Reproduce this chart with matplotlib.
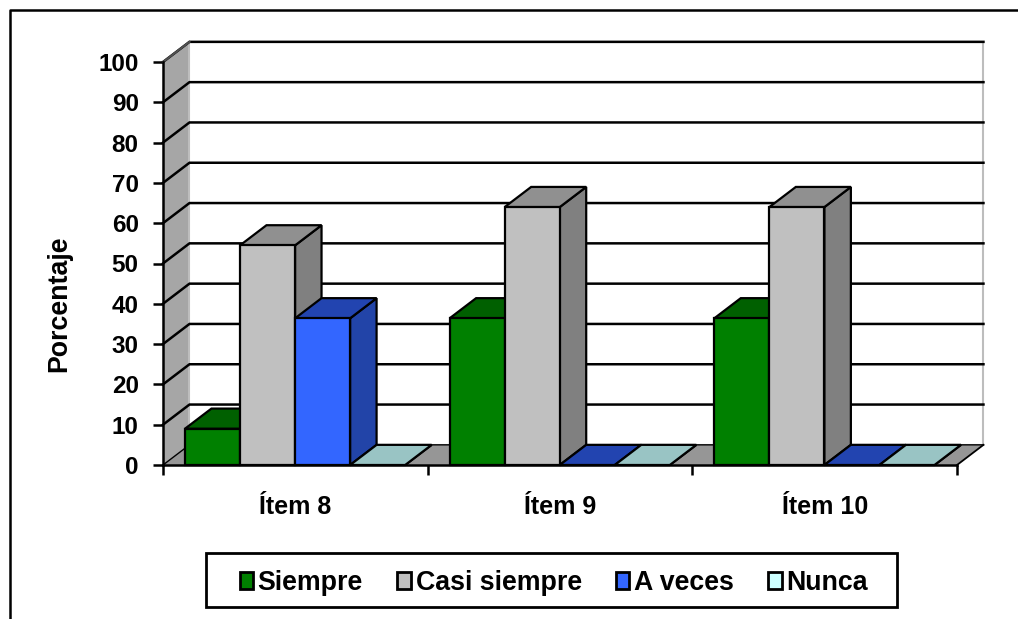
import matplotlib
matplotlib.use("Agg")
import matplotlib.pyplot as plt
from matplotlib.patches import Rectangle, Polygon, Patch
from matplotlib.lines import Line2D

categories = ["Ítem 8", "Ítem 9", "Ítem 10"]
series_names = ["Siempre", "Casi siempre", "A veces", "Nunca"]
siempre = [9, 36.4, 36.4]
casi_siempre = [54.5, 64, 64]
a_veces = [36.4, 0, 0]
nunca = [0, 0, 0]
y_ticks = list(range(0, 101, 10))

front_colors = ["#008000", "#C0C0C0", "#3366FF", "#CCFFFF"]
top_colors = ["#006000", "#909090", "#2244B0", "#99C4C4"]
side_colors = ["#006000", "#808080", "#2244A8", "#99C4C4"]

W, H = 1018, 619
plt.rcParams["font.family"] = ["Liberation Sans", "DejaVu Sans"]
plt.rcParams["font.weight"] = "bold"
fig = plt.figure(figsize=(W / 100, H / 100), dpi=100, facecolor="white")

# outer frame (top and left only reach the picture), legend frame, in figure pixels
fig.add_artist(Line2D([9.5 / W, 9.5 / W, 1], [0, 1 - 9.5 / H, 1 - 9.5 / H],
                      transform=fig.transFigure, color="black", lw=1.8))
fig.add_artist(Rectangle((206 / W, 1 - 607 / H), 691 / W, 54 / H,
                         transform=fig.transFigure, fill=False, ec="black", lw=2.0))

ax = fig.add_axes([163 / W, 1 - 465 / H, 794 / W, 403 / H])
ax.set_xlim(0, 3)
ax.set_ylim(0, 100)
ax.patch.set_alpha(0)
for s in ["top", "right"]:
    ax.spines[s].set_visible(False)
for s in ["left", "bottom"]:
    ax.spines[s].set_linewidth(1.8)
    ax.spines[s].set_zorder(20)

DX, DY = 0.1, 5.0   # 3D depth in data units
LW = 1.6

# walls and floor
ax.add_patch(Polygon([(0, 0), (DX, DY), (DX, 100 + DY), (0, 100)], fc="#A6A6A6", ec="none", zorder=1, clip_on=False))
ax.add_patch(Rectangle((DX, DY), 3, 100, fc="white", ec="#BDBDBD", lw=1.5, zorder=1, clip_on=False))
ax.add_patch(Polygon([(0, 0), (DX, DY), (3 + DX, DY), (3, 0)], fc="#969696", ec="none", zorder=1.5, clip_on=False))
for t in y_ticks:
    ax.plot([0, DX, 3 + DX], [t, t + DY, t + DY], color="black", lw=1.8 if t else 1.0, zorder=2,
            clip_on=False, solid_joinstyle="miter")
ax.plot([3, 3 + DX], [0, DY], color="black", lw=1.3, zorder=2, clip_on=False)
ax.plot([DX, 0], [100 + DY, 100], color="#505050", lw=1.5, zorder=2, clip_on=False)

# bars
all_series = [siempre, casi_siempre, a_veces, nunca]
GAP, BW = 0.083, 0.208
z = 3
for i in range(len(categories)):
    for j, vals in enumerate(all_series):
        v = vals[i]
        x0 = i + GAP + j * BW
        x1 = x0 + BW
        style = dict(ec="black", lw=LW, clip_on=False, joinstyle="miter")
        ax.add_patch(Polygon([(x1, 0), (x1 + DX, DY), (x1 + DX, v + DY), (x1, v)],
                             fc=side_colors[j], zorder=z, **style))
        ax.add_patch(Polygon([(x0, v), (x0 + DX, v + DY), (x1 + DX, v + DY), (x1, v)],
                             fc=top_colors[j], zorder=z, **style))
        if v > 0:
            ax.bar(x0, v, BW, align="edge", color=front_colors[j], edgecolor="black",
                   linewidth=LW, zorder=z, clip_on=False)
        z += 0.1

# axes ticks and text
ax.set_yticks(y_ticks)
ax.set_xticks([0, 1, 2, 3])
ax.set_xticklabels([])
ax.set_xticks([0.5, 1.5, 2.5], minor=True)
ax.set_xticklabels(categories, minor=True, fontsize=18, fontweight="bold")
ax.tick_params(axis="x", which="major", length=7.5, width=1.8, direction="out")
ax.tick_params(axis="x", which="minor", length=0, pad=21.5)
ax.tick_params(axis="y", length=7, width=1.8, direction="out", pad=10.5, labelsize=17.5)
ax.set_ylabel("Porcentaje", fontsize=19.3, fontweight="bold", labelpad=0)
ax.yaxis.set_label_coords((72 - 163) / 794, (465 - 304) / 403)

handles = [Patch(fc=c, ec="black", lw=2.0) for c in front_colors]
leg = fig.legend(handles, series_names, ncols=4, frameon=False, fontsize=19.3,
                 loc="center left", bbox_to_anchor=(239.5 / W, 1 - 583 / H),
                 handlelength=0.5, handleheight=0.6, handletextpad=0.18, columnspacing=1.28,
                 borderpad=0, borderaxespad=0)
for t in leg.get_texts():
    t.set_fontweight("bold")

fig.savefig("out.png", dpi=100, facecolor="white")
